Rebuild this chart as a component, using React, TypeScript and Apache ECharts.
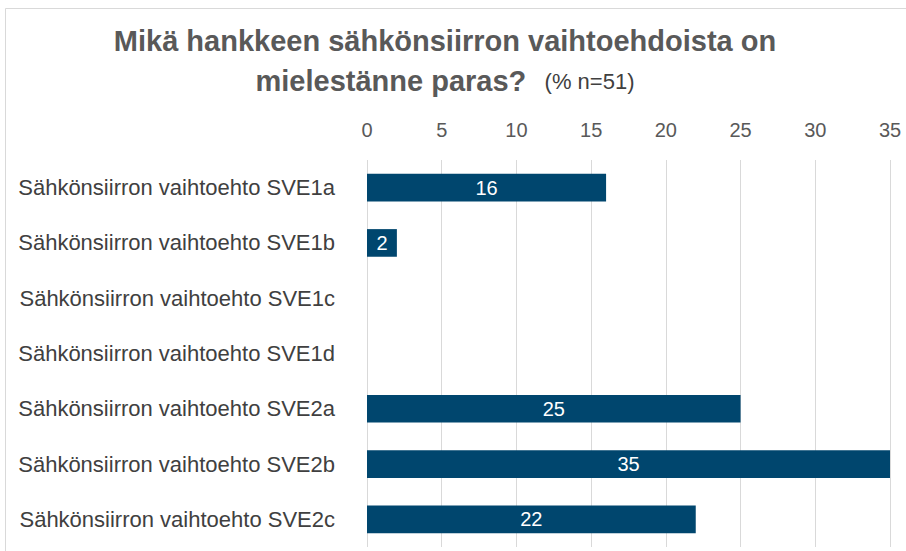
import React, { useEffect, useRef } from "react";
import * as echarts from "echarts";

const categories = [
  "Sähkönsiirron vaihtoehto SVE1a",
  "Sähkönsiirron vaihtoehto SVE1b",
  "Sähkönsiirron vaihtoehto SVE1c",
  "Sähkönsiirron vaihtoehto SVE1d",
  "Sähkönsiirron vaihtoehto SVE2a",
  "Sähkönsiirron vaihtoehto SVE2b",
  "Sähkönsiirron vaihtoehto SVE2c",
];
const values = [16, 2, 0, 0, 25, 35, 22];
const titleLine1 = "Mikä hankkeen sähkönsiirron vaihtoehdoista on";
const titleLine2 = "mielestänne paras?";
const titleNote = "(% n=51)";

const FONT = "Liberation Sans";

export default function App() {
  const ref = useRef<HTMLDivElement>(null);
  useEffect(() => {
    const chart = echarts.init(ref.current!, null, { renderer: "svg" });
    chart.setOption({
      animation: false,
      backgroundColor: "#ffffff",
      textStyle: { fontFamily: FONT },
      graphic: [
        {
          type: "rect",
          shape: { x: 5.5, y: 8.5, width: 920, height: 560 },
          style: { fill: "none", stroke: "#d9d9d9", lineWidth: 1 },
          silent: true,
        },
      ],
      title: {
        text: `{b|${titleLine1}}\n{b|${titleLine2}}{s|   ${titleNote}}`,
        left: 440,
        top: 16,
        textAlign: "center",
        textStyle: {
          rich: {
            b: {
              fontFamily: FONT,
              fontSize: 29,
              fontWeight: "bold",
              color: "#595959",
              lineHeight: 40,
            },
            s: {
              fontFamily: FONT,
              fontSize: 22,
              fontWeight: "normal",
              color: "#404040",
              lineHeight: 40,
            },
          },
        },
      },
      grid: { left: 367, right: 16, top: 160, bottom: 4, containLabel: false },
      xAxis: {
        type: "value",
        position: "top",
        min: 0,
        max: 35,
        interval: 5,
        axisLine: { show: false },
        axisTick: { show: false },
        axisLabel: { color: "#595959", fontSize: 20, margin: 20, fontFamily: FONT },
        splitLine: { show: true, lineStyle: { color: "#d9d9d9", width: 1 } },
      },
      yAxis: {
        type: "category",
        data: categories,
        inverse: true,
        axisLine: { show: false },
        axisTick: { show: false },
        axisLabel: { color: "#404040", fontSize: 22, margin: 32, fontFamily: FONT },
      },
      series: [
        {
          type: "bar",
          data: values,
          barCategoryGap: "50%",
          itemStyle: { color: "#00466e" },
          label: {
            show: true,
            position: "inside",
            color: "#ffffff",
            fontSize: 20,
            fontFamily: FONT,
            formatter: (p: any) => (p.value > 0 ? String(p.value) : ""),
          },
        },
      ],
    });
    return () => chart.dispose();
  }, []);
  return <div ref={ref} style={{ width: 906, height: 551, position: "absolute", left: 0, top: 0 }} />;
}
